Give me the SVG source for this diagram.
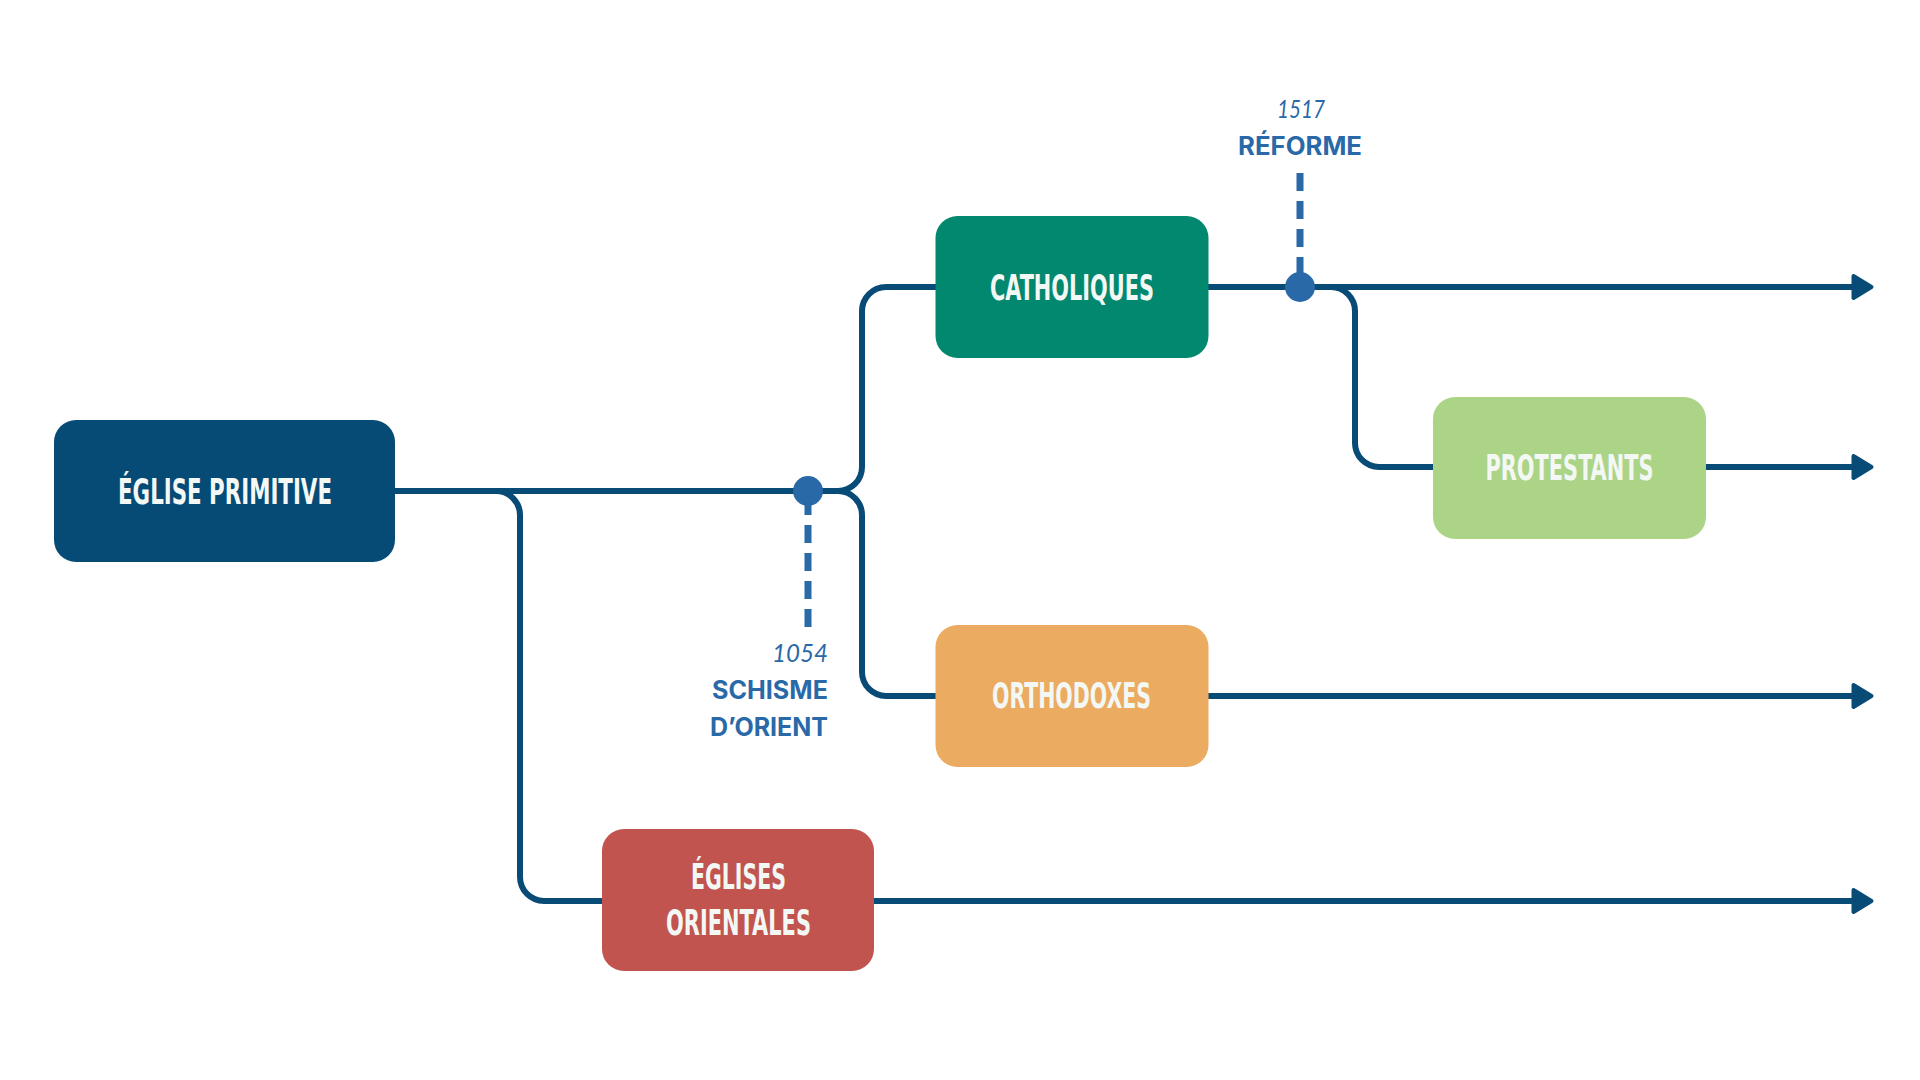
<svg xmlns="http://www.w3.org/2000/svg" width="1920" height="1080" viewBox="0 0 1920 1080">
<style>
.box-label{font-family:"Liberation Sans Narrow","DejaVu Sans Condensed","DejaVu Sans",sans-serif;font-stretch:condensed;font-weight:700;font-size:36px;fill:#f4f8f5;text-anchor:middle}
.conn{fill:none;stroke:#074b76;stroke-width:6;stroke-linecap:butt;stroke-linejoin:round}
.dash{fill:none;stroke:#2a69a8;stroke-width:7;stroke-dasharray:18 10}
.year{font-family:"Lato","Inter",sans-serif;font-style:italic;font-weight:400;font-size:25px;fill:#2a69a8}
.event{font-family:"Inter","Lato",sans-serif;font-weight:700;font-size:25px;fill:#2a69a8}
.dot{fill:#2a69a8}
</style>
<defs>
<marker id="arrow" viewBox="0 0 26 28" markerWidth="26" markerHeight="28" refX="4" refY="14" markerUnits="userSpaceOnUse" orient="auto">
<polygon points="4,3 22,14 4,25" fill="#074b76" stroke="#074b76" stroke-width="4" stroke-linejoin="round"/>
</marker>
</defs>
<rect width="1920" height="1080" fill="#ffffff"/>

<g id="connectors">
<path class="conn" d="M 394 491 H 838 A 24 24 0 0 0 862 467 V 311 A 24 24 0 0 1 886 287 H 936"/>
<path class="conn" d="M 838 491 A 24 24 0 0 1 862 515 V 672 A 24 24 0 0 0 886 696 H 936"/>
<path class="conn" d="M 496 491 A 24 24 0 0 1 520 515 V 877 A 24 24 0 0 0 544 901 H 603"/>
<path class="conn" d="M 1208 287 H 1853.5" marker-end="url(#arrow)"/>
<path class="conn" d="M 1331 287 A 24 24 0 0 1 1355 311 V 443 A 24 24 0 0 0 1379 467 H 1434"/>
<path class="conn" d="M 1705 467 H 1853.5" marker-end="url(#arrow)"/>
<path class="conn" d="M 1208 696 H 1853.5" marker-end="url(#arrow)"/>
<path class="conn" d="M 874 901 H 1853.5" marker-end="url(#arrow)"/>
<path class="dash" d="M 808 627 V 491"/>
<path class="dash" d="M 1300 173 V 287"/>
<circle class="dot" cx="808" cy="491" r="15"/>
<circle class="dot" cx="1300" cy="287" r="15"/>
</g>

<g id="event-schisme">
<text class="year" x="828" y="662" text-anchor="end" textLength="56" lengthAdjust="spacingAndGlyphs">1054</text>
<text class="event" x="828" y="699" text-anchor="end" textLength="116" lengthAdjust="spacingAndGlyphs">SCHISME</text>
<text class="event" x="828" y="736" text-anchor="end" textLength="118" lengthAdjust="spacingAndGlyphs">D’ORIENT</text>
</g>

<g id="event-reforme">
<text class="year" x="1301" y="118" text-anchor="middle" textLength="48" lengthAdjust="spacingAndGlyphs">1517</text>
<text class="event" x="1300" y="155" text-anchor="middle" textLength="124" lengthAdjust="spacingAndGlyphs">RÉFORME</text>
</g>

<g id="node-eglise-primitive">
<rect x="54" y="420" width="341" height="142" rx="22" fill="#054b76"/>
<text class="box-label" x="225" y="504" textLength="214" lengthAdjust="spacingAndGlyphs">ÉGLISE PRIMITIVE</text>
</g>

<g id="node-catholiques">
<rect x="935.5" y="216" width="273" height="142" rx="22" fill="#02886e"/>
<text class="box-label" x="1072" y="300" textLength="164" lengthAdjust="spacingAndGlyphs">CATHOLIQUES</text>
</g>

<g id="node-protestants">
<rect x="1433" y="397" width="273" height="142" rx="22" fill="#acd487"/>
<text class="box-label" x="1569.5" y="480" textLength="168" lengthAdjust="spacingAndGlyphs">PROTESTANTS</text>
</g>

<g id="node-orthodoxes">
<rect x="935.5" y="625" width="273" height="142" rx="22" fill="#ebab61"/>
<text class="box-label" x="1071.5" y="708" textLength="159" lengthAdjust="spacingAndGlyphs">ORTHODOXES</text>
</g>

<g id="node-eglises-orientales">
<rect x="602" y="829" width="272" height="142" rx="22" fill="#c1544f"/>
<text class="box-label" x="738.5" y="889" textLength="95" lengthAdjust="spacingAndGlyphs">ÉGLISES</text>
<text class="box-label" x="738.5" y="935" textLength="145" lengthAdjust="spacingAndGlyphs">ORIENTALES</text>
</g>
</svg>
